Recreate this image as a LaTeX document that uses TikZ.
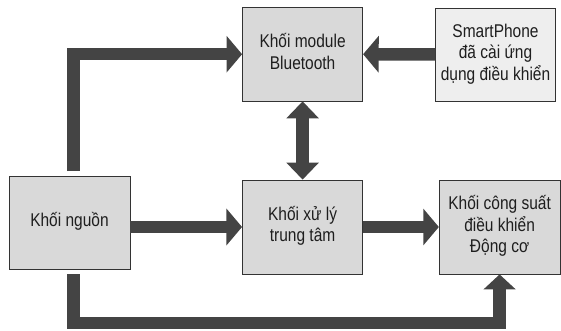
\documentclass[tikz,border=0pt]{standalone}
\usepackage{fontspec}
\setmainfont{Liberation Sans}
\usepackage{graphicx}
\usetikzlibrary{arrows.meta}
\definecolor{boxfill}{RGB}{217,217,217}
\definecolor{boxlight}{RGB}{238,238,238}
\definecolor{arrowgray}{RGB}{68,68,68}
\definecolor{txt}{RGB}{30,30,30}
\newcommand{\boxtext}[1]{\scalebox{1}[1.19]{\begin{tabular}{@{}c@{}}#1\end{tabular}}}
\tikzset{
  blockbox/.style={draw=black!80, line width=0.8pt, fill=boxfill, rectangle,
    inner sep=0pt, text=txt, font=\fontsize{15.5}{18}\selectfont},
  fatarrow/.style={draw=arrowgray, line width=12.5pt, line join=miter,
    -{Triangle[length=15.6pt,width=36pt]}},
  fatdouble/.style={draw=arrowgray, line width=12.7pt,
    {Triangle[length=17pt,width=31.6pt]}-{Triangle[length=17pt,width=31.6pt]}},
}
\begin{document}
\begin{tikzpicture}[x=1pt,y=-1pt]
\useasboundingbox (0,0) rectangle (561,331);
\node[blockbox, minimum width=120.2pt, minimum height=93.5pt] (blue) at (302.6,54.2) {\boxtext{Khối module\\Bluetooth}};
\node[blockbox, fill=boxlight, minimum width=119.6pt, minimum height=93pt] (phone) at (495.5,54.5) {\boxtext{SmartPhone\\đã cài ứng\\dụng điều khiển}};
\node[blockbox, minimum width=121pt, minimum height=93.3pt] (nguon) at (69.5,222.7) {\boxtext{Khối nguồn}};
\node[blockbox, minimum width=120.3pt, minimum height=94pt] (xuly) at (302.6,227) {\boxtext{Khối xử lý\\trung tâm}};
\node[blockbox, minimum width=120.7pt, minimum height=94pt] (cs) at (499.6,227) {\boxtext{Khối công suất\\điều khiển\\Động cơ}};
\coordinate (top) at ([xshift=4pt,yshift=4.5pt]nguon.north);
\coordinate (bot) at ([xshift=4pt,yshift=-4.7pt]nguon.south);
\coordinate (low) at (0,323);
\draw[fatarrow] (top) |- (blue.west);
\draw[fatarrow] (phone.west) -- (blue.east);
\draw[fatdouble] (blue.south) -- (xuly.north);
\draw[fatarrow] (nguon.east |- xuly.west) -- (xuly.west);
\draw[fatarrow] (xuly.east) -- (cs.west);
\draw[fatarrow, -{Triangle[length=15pt,width=31.4pt]}] (bot) -- (bot |- low) -| (cs.south);
\end{tikzpicture}
\end{document}
